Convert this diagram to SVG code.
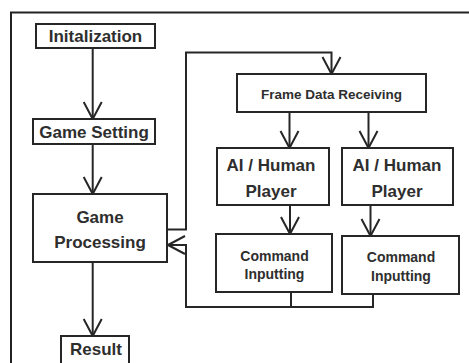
<svg xmlns="http://www.w3.org/2000/svg" width="469" height="363" viewBox="0 0 469 363">
<style>
.box{fill:#fff;stroke:#262626;stroke-width:2}
.t{font-family:"Liberation Sans",Arial,sans-serif;font-weight:bold;fill:#2e2e2e;text-anchor:middle}
.big{font-size:17px}
.mid{font-size:14px}
.sm{font-size:13.5px}
.c{fill:none;stroke:#262626;stroke-width:2}
</style>
<defs>
<marker id="arr" markerUnits="userSpaceOnUse" viewBox="0 0 20 20" refX="18" refY="10" markerWidth="20" markerHeight="20" orient="auto" overflow="visible">
<path d="M1,1 L18,10 L1,19" fill="none" stroke="#262626" stroke-width="2" stroke-linejoin="round"/>
</marker>
</defs>
<rect width="469" height="363" fill="#fff"/>
<path d="M11,363 V12.5 H469" fill="none" stroke="#222" stroke-width="2"/>
<g id="connectors">
<path class="c" d="M92.7,48 V119" marker-end="url(#arr)"/>
<path class="c" d="M92.7,144 V194" marker-end="url(#arr)"/>
<path class="c" d="M92.7,262 V336" marker-end="url(#arr)"/>
<path class="c" d="M167,229.5 H186 V52.5 H331.5 V74" marker-end="url(#arr)"/>
<path class="c" d="M289.5,112 V148" marker-end="url(#arr)"/>
<path class="c" d="M368.5,112 V148" marker-end="url(#arr)"/>
<path class="c" d="M290,205 V234" marker-end="url(#arr)"/>
<path class="c" d="M370.5,205 V236" marker-end="url(#arr)"/>
<path class="c" d="M291,292 V307"/>
<path class="c" d="M373,294 V307 H186 V245 H168" marker-end="url(#arr)"/>
</g>
<g id="init">
<rect class="box" x="36" y="24" width="119" height="24"/>
<text class="t big" x="95.5" y="42">Initalization</text>
</g>
<g id="setting">
<rect class="box" x="33" y="119" width="122" height="25"/>
<text class="t big" x="94" y="137.5">Game Setting</text>
</g>
<g id="processing">
<rect class="box" x="33" y="194" width="134" height="68"/>
<text class="t big" x="100" y="222.5">Game</text>
<text class="t big" x="100" y="248">Processing</text>
</g>
<g id="result">
<rect class="box" x="61" y="336" width="68" height="32"/>
<text class="t big" x="96" y="355">Result</text>
</g>
<g id="framedata">
<rect class="box" x="237" y="74" width="189" height="38"/>
<text class="t sm" x="331.5" y="99">Frame Data Receiving</text>
</g>
<g id="ai1">
<rect class="box" x="217" y="148" width="112" height="57"/>
<text class="t big" x="271" y="171">AI / Human</text>
<text class="t big" x="271" y="196.5">Player</text>
</g>
<g id="ai2">
<rect class="box" x="342" y="148" width="111" height="57"/>
<text class="t big" x="397" y="171">AI / Human</text>
<text class="t big" x="397" y="196.5">Player</text>
</g>
<g id="cmd1">
<rect class="box" x="216" y="234" width="116" height="58"/>
<text class="t mid" x="274.5" y="261">Command</text>
<text class="t mid" x="274.5" y="279">Inputting</text>
</g>
<g id="cmd2">
<rect class="box" x="342" y="236" width="117" height="58"/>
<text class="t mid" x="401" y="262.3">Command</text>
<text class="t mid" x="401" y="281">Inputting</text>
</g>
</svg>
